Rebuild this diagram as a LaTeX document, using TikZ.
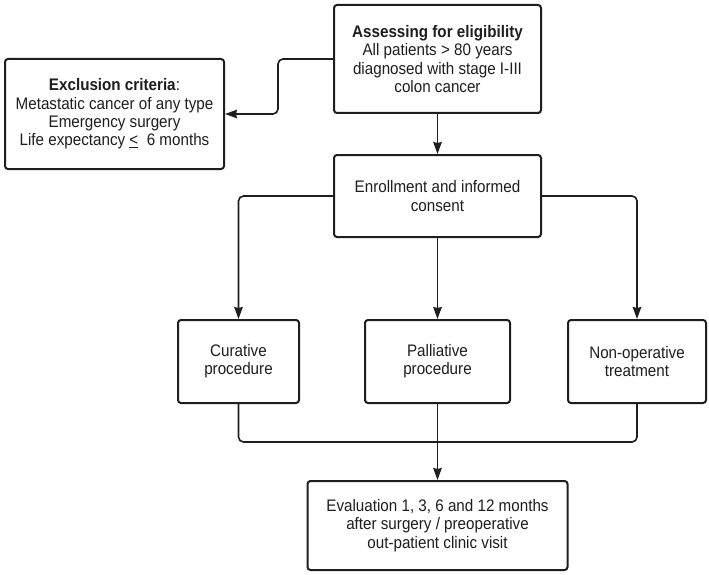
\documentclass[tikz,border=0pt]{standalone}
\usepackage{fontspec}
\setmainfont{Liberation Sans}[FakeStretch=0.91]
\usetikzlibrary{arrows.meta}
\definecolor{ink}{HTML}{1E1E1E}
\begin{document}
\begin{tikzpicture}[x=1pt,y=-1pt,
  box/.style={draw=ink, line width=2pt, rounded corners=3pt, align=center,
    text=ink, inner sep=2pt, font=\fontsize{16.7}{18.3}\selectfont},
  conn/.style={draw=ink, line width=1.6pt},
  arr/.style={conn, -{Stealth[length=12pt,width=8.5pt,inset=1pt]}}]
\useasboundingbox[fill=white] (0,0) rectangle (709,575);

\node[box, minimum width=207pt, minimum height=108pt] (top) at (437.5,59)
  {\textbf{Assessing for eligibility}\\All patients > 80 years\\diagnosed with stage I-III\\colon cancer};
\node[box, minimum width=219pt, minimum height=110pt] (excl) at (114.5,114)
  {\textbf{Exclusion criteria}:\\Metastatic cancer of any type\\Emergency surgery\\Life expectancy \underline{<}\ \ 6 months};
\node[box, minimum width=207pt, minimum height=82pt] (enr) at (437.5,196)
  {Enrollment and informed\\consent};
\node[box, minimum width=121pt, minimum height=83pt] (cur) at (238.5,361.5)
  {Curative\\procedure};
\node[box, minimum width=145pt, minimum height=83pt] (pal) at (437.5,361.5)
  {Palliative\\procedure};
\node[box, minimum width=138pt, minimum height=83pt] (non) at (637,361.5)
  {Non-operative\\treatment};
\node[box, minimum width=260pt, minimum height=89pt] (eval) at (437.5,525.5)
  {Evaluation 1, 3, 6 and 12 months\\after surgery / preoperative\\out-patient clinic visit};

\coordinate (j) at (437.5,442);

\draw[arr, rounded corners=5pt] (top.west) -- ++(-55,0) |- (excl.east);
\draw[arr] (top.south) -- (enr.north);
\draw[arr, rounded corners=5pt] (enr.west) -| (cur.north);
\draw[arr, rounded corners=5pt] (enr.east) -| (non.north);
\draw[arr] (enr.south) -- (pal.north);
\draw[conn, rounded corners=5pt] (cur.south) |- (j) -| (non.south);
\draw[arr] (pal.south) -- (eval.north);
\end{tikzpicture}
\end{document}
